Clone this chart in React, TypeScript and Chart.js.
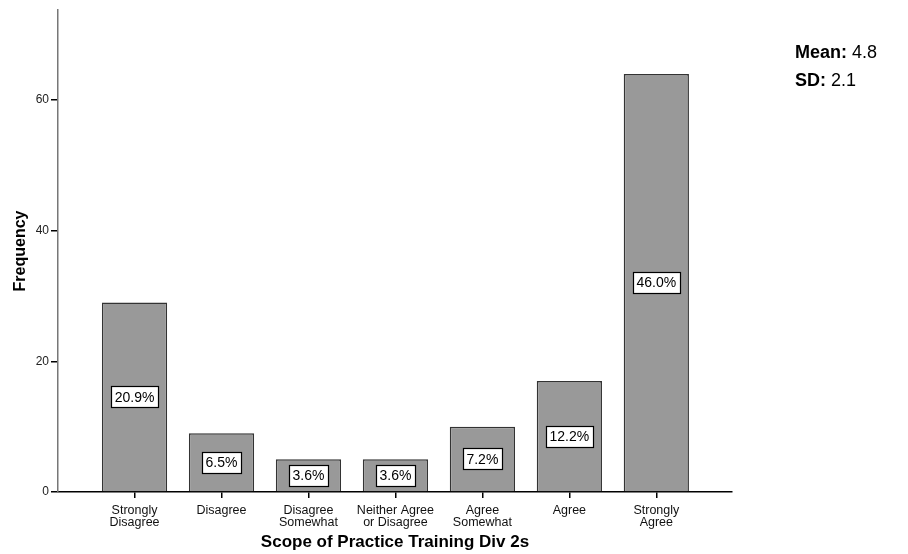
import React, { useEffect, useRef } from "react";
import { Chart, registerables } from "chart.js";

Chart.register(...registerables);

const categories: string[][] = [
  ["Strongly", "Disagree"],
  ["Disagree"],
  ["Disagree", "Somewhat"],
  ["Neither Agree", "or Disagree"],
  ["Agree", "Somewhat"],
  ["Agree"],
  ["Strongly", "Agree"],
];
const frequencies: number[] = [29, 9, 5, 5, 10, 17, 64];
const percentLabels: string[] = ["20.9%", "6.5%", "3.6%", "3.6%", "7.2%", "12.2%", "46.0%"];
const yTicks: number[] = [0, 20, 40, 60];
const xTitle = "Scope of Practice Training Div 2s";
const yTitle = "Frequency";
const meanValue = "4.8";
const sdValue = "2.1";

const FONT = "Arial, 'Liberation Sans', Helvetica, sans-serif";

const pctPlugin = {
  id: "pctLabels",
  afterDatasetsDraw(chart: any) {
    const ctx = chart.ctx;
    const meta = chart.getDatasetMeta(0);
    ctx.save();
    ctx.font = `14px ${FONT}`;
    ctx.textAlign = "center";
    ctx.textBaseline = "middle";
    meta.data.forEach((bar: any, i: number) => {
      const label = percentLabels[i];
      const cx = bar.x;
      const cy = (bar.y + bar.base) / 2;
      const w = Math.round(ctx.measureText(label).width + 7);
      const h = 21;
      const x0 = Math.round(cx - w / 2) + 0.5;
      const y0 = Math.round(cy - h / 2) + 0.5;
      ctx.fillStyle = "#ffffff";
      ctx.fillRect(x0, y0, w, h);
      ctx.strokeStyle = "#000000";
      ctx.lineWidth = 1.2;
      ctx.strokeRect(x0, y0, w, h);
      ctx.fillStyle = "#000000";
      ctx.fillText(label, cx, cy + 1);
    });
    ctx.restore();
  },
};

export default function App() {
  const ref = useRef<HTMLCanvasElement | null>(null);
  useEffect(() => {
    if (!ref.current) return;
    const chart = new Chart(ref.current, {
      type: "bar",
      data: {
        datasets: [
          {
            data: frequencies.map((v, i) => ({ x: i, y: v })),
            backgroundColor: "#999999",
            borderColor: "#333333",
            borderWidth: 1.5,
            categoryPercentage: 1,
            barPercentage: 0.75,
          },
        ],
      },
      options: {
        animation: false,
        responsive: false,
        maintainAspectRatio: false,
        layout: { padding: { top: 10, right: 176, left: 0, bottom: 0 } },
        plugins: { legend: { display: false }, tooltip: { enabled: false } },
        scales: {
          x: {
            type: "linear",
            offset: false,
            min: -0.88,
            max: 6.87,
            afterBuildTicks: (scale: any) => {
              scale.ticks = categories.map((_, i) => ({ value: i }));
            },
            afterFit: (scale: any) => {
              scale.height = 62;
            },
            grid: {
              display: true,
              offset: false,
              drawOnChartArea: false,
              drawTicks: true,
              tickLength: 6,
              color: "#000000",
              lineWidth: 1.5,
            },
            border: { display: true, color: "#000000", width: 1.5 },
            ticks: {
              autoSkip: false,
              maxRotation: 0,
              padding: 7,
              color: "#111111",
              font: { family: FONT, size: 12.5, lineHeight: "12px" },
              callback: (v: any) => categories[Math.round(Number(v))] ?? "",
            },
            title: {
              display: true,
              text: xTitle,
              color: "#000000",
              font: { family: FONT, size: 17, weight: "bold" },
              padding: { top: 2, bottom: 1 },
            },
          },
          y: {
            min: 0,
            max: 73.8,
            afterBuildTicks: (scale: any) => {
              scale.ticks = yTicks.map((v) => ({ value: v }));
            },
            afterFit: (scale: any) => {
              scale.width = 58;
            },
            grid: {
              display: true,
              drawOnChartArea: false,
              drawTicks: true,
              tickLength: 7,
              color: "#000000",
              lineWidth: 1.5,
            },
            border: { display: true, color: "#777777", width: 1.5 },
            ticks: {
              padding: 2,
              color: "#222222",
              font: { family: FONT, size: 12 },
            },
            title: {
              display: true,
              text: yTitle,
              color: "#000000",
              font: { family: FONT, size: 16, weight: "bold" },
              padding: { top: 11, bottom: 6 },
            },
          },
        },
      },
      plugins: [pctPlugin],
    } as any);
    return () => chart.destroy();
  }, []);

  return (
    <div style={{ position: "absolute", left: 0, top: 0, width: 908, height: 554, background: "#fff" }}>
      <canvas ref={ref} width={908} height={554} style={{ position: "absolute", left: 0, top: 0, width: 908, height: 554 }} />
      <div
        style={{
          position: "absolute",
          left: 795,
          top: 38,
          fontFamily: FONT,
          fontSize: 18,
          lineHeight: "28px",
          color: "#000",
          whiteSpace: "nowrap",
        }}
      >
        <div>
          <b>Mean:</b> {meanValue}
        </div>
        <div>
          <b>SD:</b> {sdValue}
        </div>
      </div>
    </div>
  );
}
